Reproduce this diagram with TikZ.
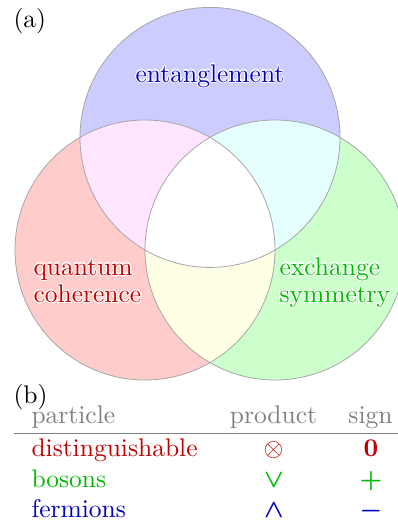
\documentclass[tikz,border=0pt]{standalone}
\usepackage{amsmath,amssymb}
\definecolor{cred}{rgb}{0.75,0,0}
\definecolor{cgreen}{rgb}{0,0.72,0}
\definecolor{cblue}{rgb}{0,0,0.75}
\definecolor{edgegray}{gray}{0.65}
\definecolor{fblue}{rgb}{0.8,0.8,1}
\definecolor{fred}{rgb}{1,0.8,0.8}
\definecolor{fgreen}{rgb}{0.8,1,0.8}
\definecolor{fpink}{rgb}{1,0.9,1}
\definecolor{fcyan}{rgb}{0.9,1,1}
\definecolor{fyellow}{rgb}{1,1,0.9}
\newcommand\halocopy[3]{\rlap{\kern#1\raisebox{#2}{#3}}}
\newcommand\halo[2]{{\color{white}%
\halocopy{0.4pt}{0pt}{#2}\halocopy{-0.4pt}{0pt}{#2}%
\halocopy{0pt}{0.4pt}{#2}\halocopy{0pt}{-0.4pt}{#2}%
\halocopy{0.28pt}{0.28pt}{#2}\halocopy{-0.28pt}{0.28pt}{#2}%
\halocopy{0.28pt}{-0.28pt}{#2}\halocopy{-0.28pt}{-0.28pt}{#2}}{\color{#1}#2}}
\tikzset{
  txt/.style={inner sep=0pt, scale=2.55},
  lbl/.style={txt, anchor=base west},
  ctr/.style={txt, anchor=base},
  venn/.style={draw=edgegray, line width=0.8pt},
}
\begin{document}
\begin{tikzpicture}[x=1pt,y=-1pt]
\useasboundingbox (0,0) rectangle (398,520);
\coordinate (L) at (145,250);
\coordinate (R) at (275,250);
\coordinate (T) at (210,137.4);
\def\rr{130pt}
% base fills
\fill[fblue] (T) circle[radius=\rr];
\fill[fred] (L) circle[radius=\rr];
\fill[fgreen] (R) circle[radius=\rr];
% pairwise overlaps
\begin{scope}\clip (T) circle[radius=\rr]; \fill[fpink] (L) circle[radius=\rr];\end{scope}
\begin{scope}\clip (T) circle[radius=\rr]; \fill[fcyan] (R) circle[radius=\rr];\end{scope}
\begin{scope}\clip (L) circle[radius=\rr]; \fill[fyellow] (R) circle[radius=\rr];\end{scope}
\begin{scope}\clip (T) circle[radius=\rr]; \clip (L) circle[radius=\rr]; \fill[white] (R) circle[radius=\rr];\end{scope}
% outlines
\draw[venn] (T) circle[radius=\rr];
\draw[venn] (L) circle[radius=\rr];
\draw[venn] (R) circle[radius=\rr];
% labels
\node[lbl] (pa) at (13,27) {(a)};
\node[ctr] (ent) at (210,82) {\halo{cblue}{entanglement}};
\node[lbl] (qu1) at (33,275) {\halo{cred}{quantum}};
\node[lbl] (qu2) at (33,302.7) {\halo{cred}{coherence}};
\node[lbl] (ex1) at (279,275) {\halo{cgreen}{exchange}};
\node[lbl] (ex2) at (279,302.7) {\halo{cgreen}{symmetry}};
% table
\node[lbl] (pb) at (13,403) {(b)};
\node[lbl, text=gray] (h1) at (31,423) {particle};
\node[ctr, text=gray] (h2) at (273.5,423) {product};
\node[ctr, text=gray] (h3) at (370.5,423) {sign};
\coordinate (rl) at (14,433);
\coordinate (rr) at (398,433);
\draw[gray, line width=0.9pt] (rl) -- (rr);
\node[lbl, text=cred] (r1) at (31,456) {distinguishable};
\node[ctr, text=cred] (s1) at (273.5,456) {$\otimes$};
\node[ctr, text=cred] (g1) at (371,456) {$\mathbf{0}$};
\node[lbl, text=cgreen] (r2) at (31,487) {bosons};
\node[ctr, text=cgreen] (s2) at (274,487) {$\boldsymbol{\vee}$};
\node[ctr, text=cgreen] (g2) at (371,487) {$\boldsymbol{+}$};
\node[lbl, text=cblue] (r3) at (31,517) {fermions};
\node[ctr, text=cblue] (s3) at (274,517) {$\boldsymbol{\wedge}$};
\node[ctr, text=cblue] (g3) at (371,517) {$\boldsymbol{-}$};
\end{tikzpicture}
\end{document}
